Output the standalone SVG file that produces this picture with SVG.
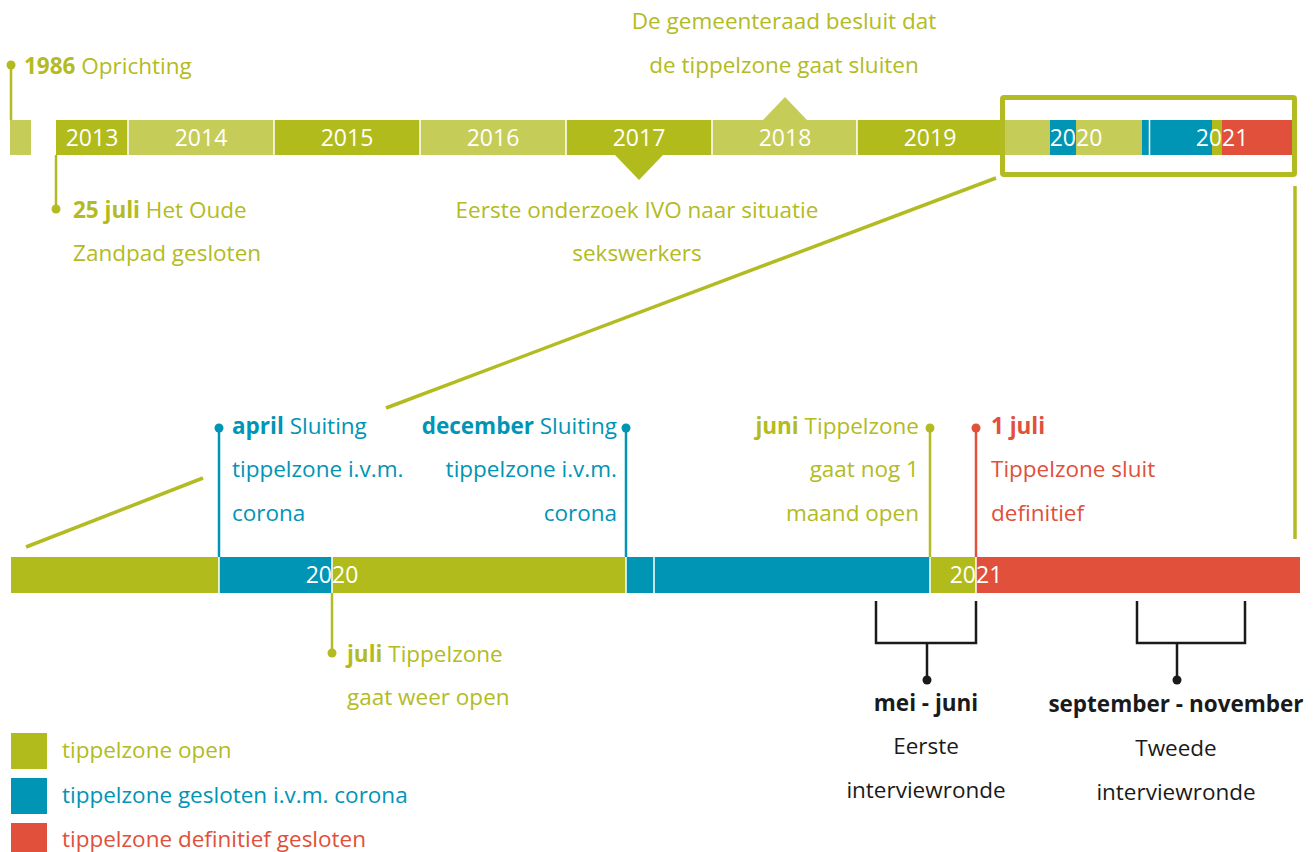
<svg xmlns="http://www.w3.org/2000/svg" width="1314" height="852" viewBox="0 0 1314 852">
<style>
text{font-family:"Open Sans","Noto Sans",sans-serif;font-size:22.5px}
.y{font-size:23px}
.b{font-weight:700}
.g{fill:#b3bb22}.bl{fill:#0094b5}.r{fill:#e0503a}.k{fill:#1a1a1a}.w{fill:#ffffff}
.mid{text-anchor:middle}.end{text-anchor:end}
.dg{fill:#b1bb1c}.lg{fill:#c6cc58}.cb{fill:#0094b5}.cr{fill:#e0503a}
.sep{stroke:#ffffff;stroke-width:1.5}
.pg{stroke:#b3bb22;stroke-width:2.5;fill:none}
.pb{stroke:#0094b5;stroke-width:2.5;fill:none}
.pr{stroke:#e0503a;stroke-width:2.5;fill:none}
.pk{stroke:#1a1a1a;stroke-width:2.5;fill:none}
.zoom{stroke:#b3bb22;stroke-width:3.5;fill:none}
</style>
<rect width="1314" height="852" fill="#ffffff"/>

<g id="top-timeline">
  <rect x="10" y="120" width="21" height="35" class="lg"/>
  <rect x="56" y="120" width="72" height="35" class="dg"/>
  <rect x="128" y="120" width="146" height="35" class="lg"/>
  <rect x="274" y="120" width="146" height="35" class="dg"/>
  <rect x="420" y="120" width="146" height="35" class="lg"/>
  <rect x="566" y="120" width="146" height="35" class="dg"/>
  <rect x="712" y="120" width="145" height="35" class="lg"/>
  <rect x="857" y="120" width="146" height="35" class="dg"/>
  <polygon points="615,155 663,155 639,180" class="dg"/>
  <polygon points="763,120 807,120 785,97" class="lg"/>
  <rect x="1003" y="120" width="47" height="35" class="lg"/>
  <rect x="1050" y="120" width="26" height="35" class="cb"/>
  <rect x="1076" y="120" width="66" height="35" class="lg"/>
  <rect x="1142" y="120" width="70" height="35" class="cb"/>
  <rect x="1212" y="120" width="10" height="35" class="dg"/>
  <rect x="1222" y="120" width="71" height="35" class="cr"/>
  <g class="sep">
    <line x1="128" y1="120" x2="128" y2="155"/>
    <line x1="274" y1="120" x2="274" y2="155"/>
    <line x1="420" y1="120" x2="420" y2="155"/>
    <line x1="566" y1="120" x2="566" y2="155"/>
    <line x1="712" y1="120" x2="712" y2="155"/>
    <line x1="857" y1="120" x2="857" y2="155"/>
    <line x1="1149.5" y1="120" x2="1149.5" y2="155"/>
  </g>
  <text x="92" y="146" class="w mid y">2013</text>
  <text x="201" y="146" class="w mid y">2014</text>
  <text x="347" y="146" class="w mid y">2015</text>
  <text x="493" y="146" class="w mid y">2016</text>
  <text x="639" y="146" class="w mid y">2017</text>
  <text x="785" y="146" class="w mid y">2018</text>
  <text x="930" y="146" class="w mid y">2019</text>
  <text x="1076" y="146" class="w mid y">2020</text>
  <text x="1222" y="146" class="w mid y">2021</text>
  <rect x="1002.5" y="97.5" width="292" height="77" rx="1.5" fill="none" stroke="#b3bb22" stroke-width="5"/>
</g>

<g id="connectors">
  <line x1="996" y1="178" x2="386" y2="408" class="zoom"/>
  <line x1="203" y1="478" x2="26" y2="547" class="zoom"/>
  <line x1="1295" y1="186" x2="1295" y2="539" class="zoom"/>
  <line x1="11" y1="65" x2="11" y2="120" class="pg"/>
  <circle cx="11" cy="65" r="4.5" class="g"/>
  <line x1="56" y1="155" x2="56" y2="209" class="pg"/>
  <circle cx="56" cy="209" r="4.5" class="g"/>
  <line x1="219" y1="428" x2="219" y2="557" class="pb"/>
  <circle cx="219" cy="428" r="4.5" class="bl"/>
  <line x1="626" y1="428" x2="626" y2="557" class="pb"/>
  <circle cx="626" cy="428" r="4.5" class="bl"/>
  <line x1="930" y1="428" x2="930" y2="557" class="pg"/>
  <circle cx="930" cy="428" r="4.5" class="g"/>
  <line x1="976" y1="428" x2="976" y2="557" class="pr"/>
  <circle cx="976" cy="428" r="4.5" class="r"/>
  <line x1="332" y1="593" x2="332" y2="653" class="pg"/>
  <circle cx="332" cy="653" r="4.5" class="g"/>
  <polyline points="876,601 876,643 976,643 976,601" class="pk"/>
  <line x1="927" y1="643" x2="927" y2="680" class="pk"/>
  <circle cx="927" cy="680" r="4.5" class="k"/>
  <polyline points="1137,601 1137,643 1245,643 1245,601" class="pk"/>
  <line x1="1177" y1="643" x2="1177" y2="680" class="pk"/>
  <circle cx="1177" cy="680" r="4.5" class="k"/>
</g>

<g id="bottom-timeline">
  <rect x="11" y="557" width="208" height="36" class="dg"/>
  <rect x="219" y="557" width="113" height="36" class="cb"/>
  <rect x="332" y="557" width="294" height="36" class="dg"/>
  <rect x="626" y="557" width="304" height="36" class="cb"/>
  <rect x="930" y="557" width="46" height="36" class="dg"/>
  <rect x="976" y="557" width="324" height="36" class="cr"/>
  <g class="sep">
    <line x1="219" y1="557" x2="219" y2="593"/>
    <line x1="332" y1="557" x2="332" y2="593"/>
    <line x1="626" y1="557" x2="626" y2="593"/>
    <line x1="654" y1="557" x2="654" y2="593"/>
    <line x1="930" y1="557" x2="930" y2="593"/>
    <line x1="976" y1="557" x2="976" y2="593"/>
  </g>
  <text x="332" y="583" class="w mid y">2020</text>
  <text x="976" y="583" class="w mid y">2021</text>
</g>

<g id="event-1986"><text x="24" y="74" class="g"><tspan class="b">1986</tspan> Oprichting</text></g>
<g id="event-25juli">
  <text x="73" y="218" class="g"><tspan class="b">25 juli</tspan> Het Oude</text>
  <text x="73" y="261" class="g">Zandpad gesloten</text>
</g>
<g id="event-2017">
  <text x="637" y="218" class="g mid">Eerste onderzoek IVO naar situatie</text>
  <text x="637" y="261" class="g mid">sekswerkers</text>
</g>
<g id="event-2018">
  <text x="784" y="29" class="g mid">De gemeenteraad besluit dat</text>
  <text x="784" y="73" class="g mid">de tippelzone gaat sluiten</text>
</g>
<g id="event-april">
  <text x="232" y="434" class="bl"><tspan class="b">april</tspan> Sluiting</text>
  <text x="232" y="477" class="bl">tippelzone i.v.m.</text>
  <text x="232" y="521" class="bl">corona</text>
</g>
<g id="event-december">
  <text x="617" y="434" class="bl end"><tspan class="b">december</tspan> Sluiting</text>
  <text x="617" y="477" class="bl end">tippelzone i.v.m.</text>
  <text x="617" y="521" class="bl end">corona</text>
</g>
<g id="event-juni">
  <text x="919" y="434" class="g end"><tspan class="b">juni</tspan> Tippelzone</text>
  <text x="919" y="477" class="g end">gaat nog 1</text>
  <text x="919" y="521" class="g end">maand open</text>
</g>
<g id="event-1juli">
  <text x="991" y="434" class="r b">1 juli</text>
  <text x="991" y="477" class="r">Tippelzone sluit</text>
  <text x="991" y="521" class="r">definitief</text>
</g>
<g id="event-juli">
  <text x="347" y="662" class="g"><tspan class="b">juli</tspan> Tippelzone</text>
  <text x="347" y="705" class="g">gaat weer open</text>
</g>
<g id="round-1">
  <text x="926" y="711" class="k b mid">mei - juni</text>
  <text x="926" y="754" class="k mid">Eerste</text>
  <text x="926" y="798" class="k mid">interviewronde</text>
</g>
<g id="round-2">
  <text x="1176" y="712" class="k b mid">september - november</text>
  <text x="1176" y="756" class="k mid">Tweede</text>
  <text x="1176" y="800" class="k mid">interviewronde</text>
</g>
<g id="legend">
  <rect x="11" y="733" width="36" height="36" class="dg"/>
  <text x="62" y="758" class="g">tippelzone open</text>
  <rect x="11" y="778" width="36" height="36" class="cb"/>
  <text x="62" y="803" class="bl">tippelzone gesloten i.v.m. corona</text>
  <rect x="11" y="823" width="36" height="36" class="cr"/>
  <text x="62" y="847" class="r">tippelzone definitief gesloten</text>
</g>
</svg>
